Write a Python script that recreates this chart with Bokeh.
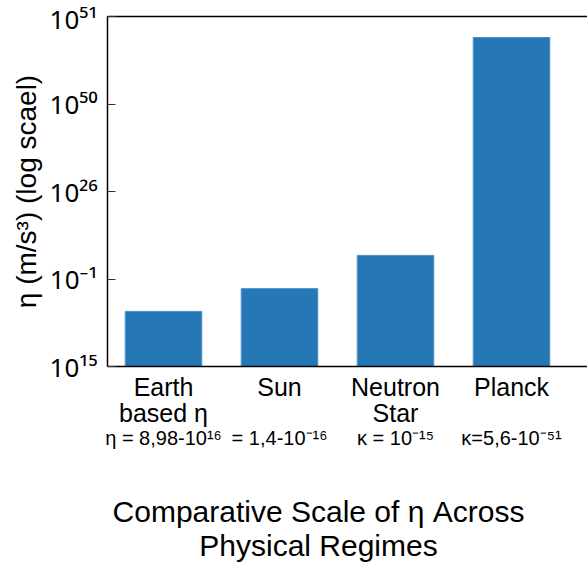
from bokeh.plotting import figure
from bokeh.models import Range1d, LinearAxis, FixedTicker
from bokeh.embed import file_html
from bokeh.resources import INLINE

# ---- data ----
categories = ["Earth\nbased η", "Sun", "Neutron\nStar", "Planck"]
cat_values = ["η = 8,98-10¹⁶", "= 1,4-10⁻¹⁶", "κ = 10⁻¹⁵", "κ=5,6-10⁻⁵¹"]
# bar heights expressed on the chart's (uneven) log-scale index axis
bar_heights = [0.63, 0.89, 1.27, 3.76]
ytick_pos = [0, 1, 2, 3, 4]
ytick_labels = ["10¹⁵", "10⁻¹", "10²⁶", "10⁵⁰", "10⁵¹"]
title_lines = ["Comparative Scale of η Across", "Physical Regimes"]
title_center = 1.336  # horizontal centre of the bottom title, in category units

FONT = "Liberation Sans"
xs = list(range(len(categories)))

p = figure(width=587, height=567, output_backend="svg", toolbar_location=None,
           x_range=Range1d(-0.483, 3.655), y_range=Range1d(0, 4),
           min_border_left=107, min_border_right=0, min_border_top=16,
           min_border_bottom=201)
p.outline_line_color = None
p.grid.grid_line_color = None

p.vbar(x=xs, top=bar_heights, width=0.66, bottom=0, fill_color="#2577b5",
       line_color="#4a8fc6", line_width=1)

# y axis
ya = p.yaxis[0]
ya.ticker = FixedTicker(ticks=ytick_pos)
ya.major_label_overrides = {t: l for t, l in zip(ytick_pos, ytick_labels)}
ya.major_label_text_font = "Noto Sans"
ya.major_label_text_font_size = "26px"
ya.major_label_text_color = "black"
ya.major_tick_in = 8
ya.major_tick_out = 0
ya.minor_tick_line_color = None
ya.axis_line_color = "black"
ya.axis_line_width = 1.5
ya.major_tick_line_color = "#333333"
ya.major_label_standoff = 10
ya.axis_label = "η (m/s³) (log scael)"
ya.axis_label_text_font = FONT
ya.axis_label_text_font_style = "normal"
ya.axis_label_text_font_size = "28px"
ya.axis_label_text_color = "black"
ya.axis_label_standoff = 5

# x axis: category names
xa = p.xaxis[0]
xa.ticker = FixedTicker(ticks=xs)
xa.major_label_overrides = {x: c for x, c in zip(xs, categories)}
xa.major_label_text_font = FONT
xa.major_label_text_font_size = "25px"
xa.major_label_text_color = "black"
xa.major_label_text_line_height = 0.95
xa.major_label_standoff = 0
xa.major_tick_line_color = None
xa.minor_tick_line_color = None
xa.axis_line_color = "black"
xa.axis_line_width = 1.5

def text_row(ticks, labels, size, standoff):
    ax = LinearAxis(ticker=FixedTicker(ticks=ticks),
                    major_label_overrides={t: l for t, l in zip(ticks, labels)},
                    major_label_text_font=FONT, major_label_text_font_size=size,
                    major_label_text_color="black", major_label_standoff=standoff,
                    major_tick_line_color=None, minor_tick_line_color=None,
                    axis_line_color=None)
    p.add_layout(ax, "below")

# second row below: values
text_row(xs, cat_values, "20px", -10)
# bottom title, two lines
text_row([title_center], [title_lines[0]], "30px", 37)
text_row([title_center], [title_lines[1]], "30px", -8)

# top frame line
top = LinearAxis(ticker=FixedTicker(ticks=[]), major_label_text_font_size="0px",
                 major_tick_line_color=None, minor_tick_line_color=None,
                 axis_line_color="black", axis_line_width=1.5)
p.add_layout(top, "above")

open("out.html", "w").write(file_html(p, INLINE))
